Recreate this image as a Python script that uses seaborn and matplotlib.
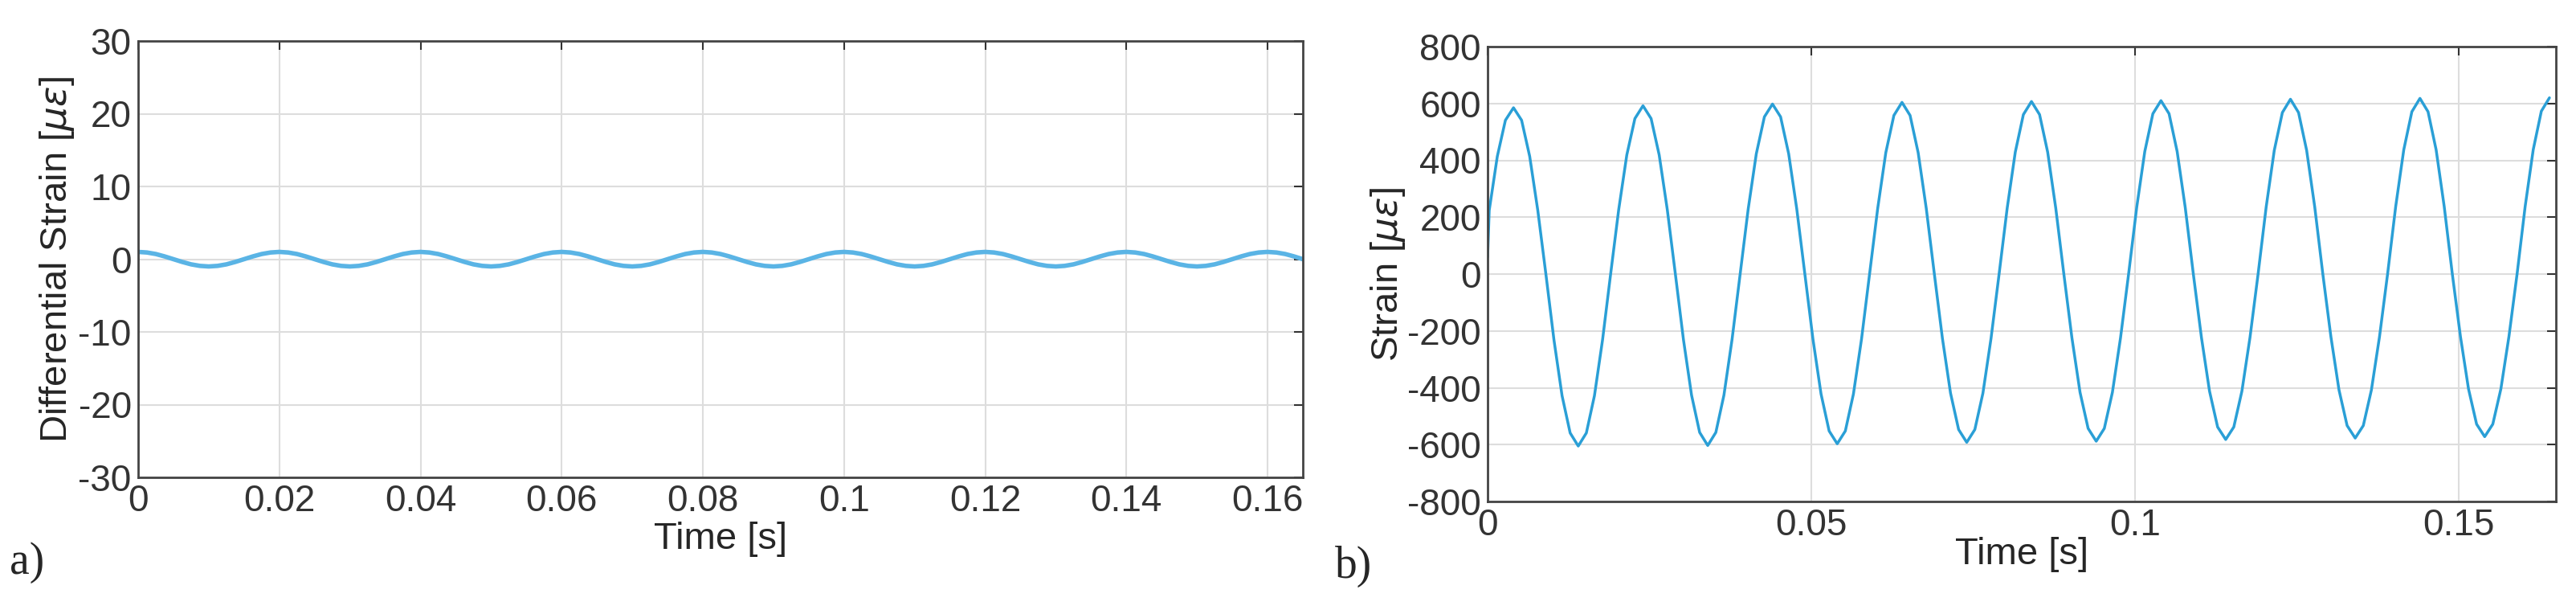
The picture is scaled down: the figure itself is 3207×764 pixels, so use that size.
import matplotlib
matplotlib.use("Agg")
import matplotlib.pyplot as plt
import seaborn as sns

# panel a: differential strain, read every 1.25 ms from 0 to 0.165 s
step_a = 0.00125
strain_a = [1.0, 0.92, 0.71, 0.38, 0.0, -0.38, -0.71, -0.92, -1.0, -0.92, -0.71, -0.38, 0.0, 0.38, 0.71, 0.92,
            1.0, 0.92, 0.71, 0.38, 0.0, -0.38, -0.71, -0.92, -1.0, -0.92, -0.71, -0.38, 0.0, 0.38, 0.71, 0.92,
            1.0, 0.92, 0.71, 0.38, 0.0, -0.38, -0.71, -0.92, -1.0, -0.92, -0.71, -0.38, 0.0, 0.38, 0.71, 0.92,
            1.0, 0.92, 0.71, 0.38, 0.0, -0.38, -0.71, -0.92, -1.0, -0.92, -0.71, -0.38, 0.0, 0.38, 0.71, 0.92,
            1.0, 0.92, 0.71, 0.38, 0.0, -0.38, -0.71, -0.92, -1.0, -0.92, -0.71, -0.38, 0.0, 0.38, 0.71, 0.92,
            1.0, 0.92, 0.71, 0.38, 0.0, -0.38, -0.71, -0.92, -1.0, -0.92, -0.71, -0.38, 0.0, 0.38, 0.71, 0.92,
            1.0, 0.92, 0.71, 0.38, 0.0, -0.38, -0.71, -0.92, -1.0, -0.92, -0.71, -0.38, 0.0, 0.38, 0.71, 0.92,
            1.0, 0.92, 0.71, 0.38, 0.0, -0.38, -0.71, -0.92, -1.0, -0.92, -0.71, -0.38, 0.0, 0.38, 0.71, 0.92,
            1.0, 0.92, 0.71, 0.38, 0.0]
time_a = [round(i * step_a, 5) for i in range(len(strain_a))]

# panel b: strain, first point at t=0, then read every 1.25 ms from 0.00025 s
step_b = 0.00125
strain_b_start = 60
strain_b = [0, 224, 414, 541, 585, 541, 414, 224,
            0, -232, -428, -559, -605, -559, -428, -232,
            0, 227, 419, 547, 592, 547, 419, 227,
            0, -231, -426, -557, -603, -557, -426, -231,
            0, 229, 423, 553, 598, 553, 423, 229,
            0, -229, -422, -552, -597, -552, -422, -229,
            0, 231, 427, 558, 604, 558, 427, 231,
            0, -227, -419, -547, -592, -547, -419, -227,
            0, 232, 429, 561, 607, 561, 429, 232,
            0, -225, -416, -543, -588, -543, -416, -225,
            0, 234, 431, 564, 610, 564, 431, 234,
            0, -223, -412, -538, -582, -538, -412, -223,
            0, 236, 435, 568, 615, 568, 435, 236,
            0, -221, -408, -533, -577, -533, -408, -221,
            0, 237, 437, 571, 618, 571, 437, 237,
            0, -219, -404, -528, -572, -528, -404, -219,
            0, 238, 438, 573, 620]
time_b = [0.0] + [round(-0.001 + (i + 1) * step_b, 5) for i in range(len(strain_b) - 1)]
strain_b = [strain_b_start] + strain_b[1:]

sns.set_style("white")
plt.rcParams['font.family'] = ['Liberation Sans', 'DejaVu Sans']
plt.rcParams['mathtext.fontset'] = 'dejavusans'
plt.rcParams['axes.unicode_minus'] = False

fig = plt.figure(figsize=(32.07, 7.64), dpi=100)
ax1 = fig.add_axes([172 / 3207, 1 - 594 / 764, 1450 / 3207, 543 / 764])
ax2 = fig.add_axes([1852 / 3207, 1 - 624 / 764, 1330 / 3207, 566 / 764])

sns.lineplot(x=time_a, y=strain_a, ax=ax1, color="#5ab4e5", linewidth=4)
sns.lineplot(x=time_b, y=strain_b, ax=ax2, color="#2a9fd6", linewidth=2.5)

ax1.set_xlim(0, 0.165)
ax1.set_ylim(-30, 30)
ax1.set_xticks([0, 0.02, 0.04, 0.06, 0.08, 0.1, 0.12, 0.14, 0.16])
ax1.set_xticklabels(["0", "0.02", "0.04", "0.06", "0.08", "0.1", "0.12", "0.14", "0.16"])
ax1.set_yticks([-30, -20, -10, 0, 10, 20, 30])
ax1.set_xlabel("Time [s]", fontsize=34, labelpad=2)
ax1.set_ylabel(r"Differential Strain [$\mu\varepsilon$]", fontsize=34, labelpad=2)

ax2.set_xlim(0, 0.165)
ax2.set_ylim(-800, 800)
ax2.set_xticks([0, 0.05, 0.1, 0.15])
ax2.set_xticklabels(["0", "0.05", "0.1", "0.15"])
ax2.set_yticks(range(-800, 801, 200))
ax2.set_xlabel("Time [s]", fontsize=34, labelpad=-6)
ax2.set_ylabel(r"Strain [$\mu\varepsilon$]", fontsize=34, labelpad=0)

for ax in (ax1, ax2):
    ax.grid(True, color="#dddddd", linewidth=1.5)
    ax.tick_params(direction="in", labelsize=33, length=8, width=1.5,
                   top=True, right=True, colors="#333333", pad=6)
    for s in ax.spines.values():
        s.set_color("#444444")
        s.set_linewidth(2)

fig.text(12 / 3207, 1 - 700 / 764, "a)", fontsize=40, family="Liberation Serif", va="center")
fig.text(1662 / 3207, 1 - 705 / 764, "b)", fontsize=40, family="Liberation Serif", va="center")

fig.savefig("out.png", dpi=100)
